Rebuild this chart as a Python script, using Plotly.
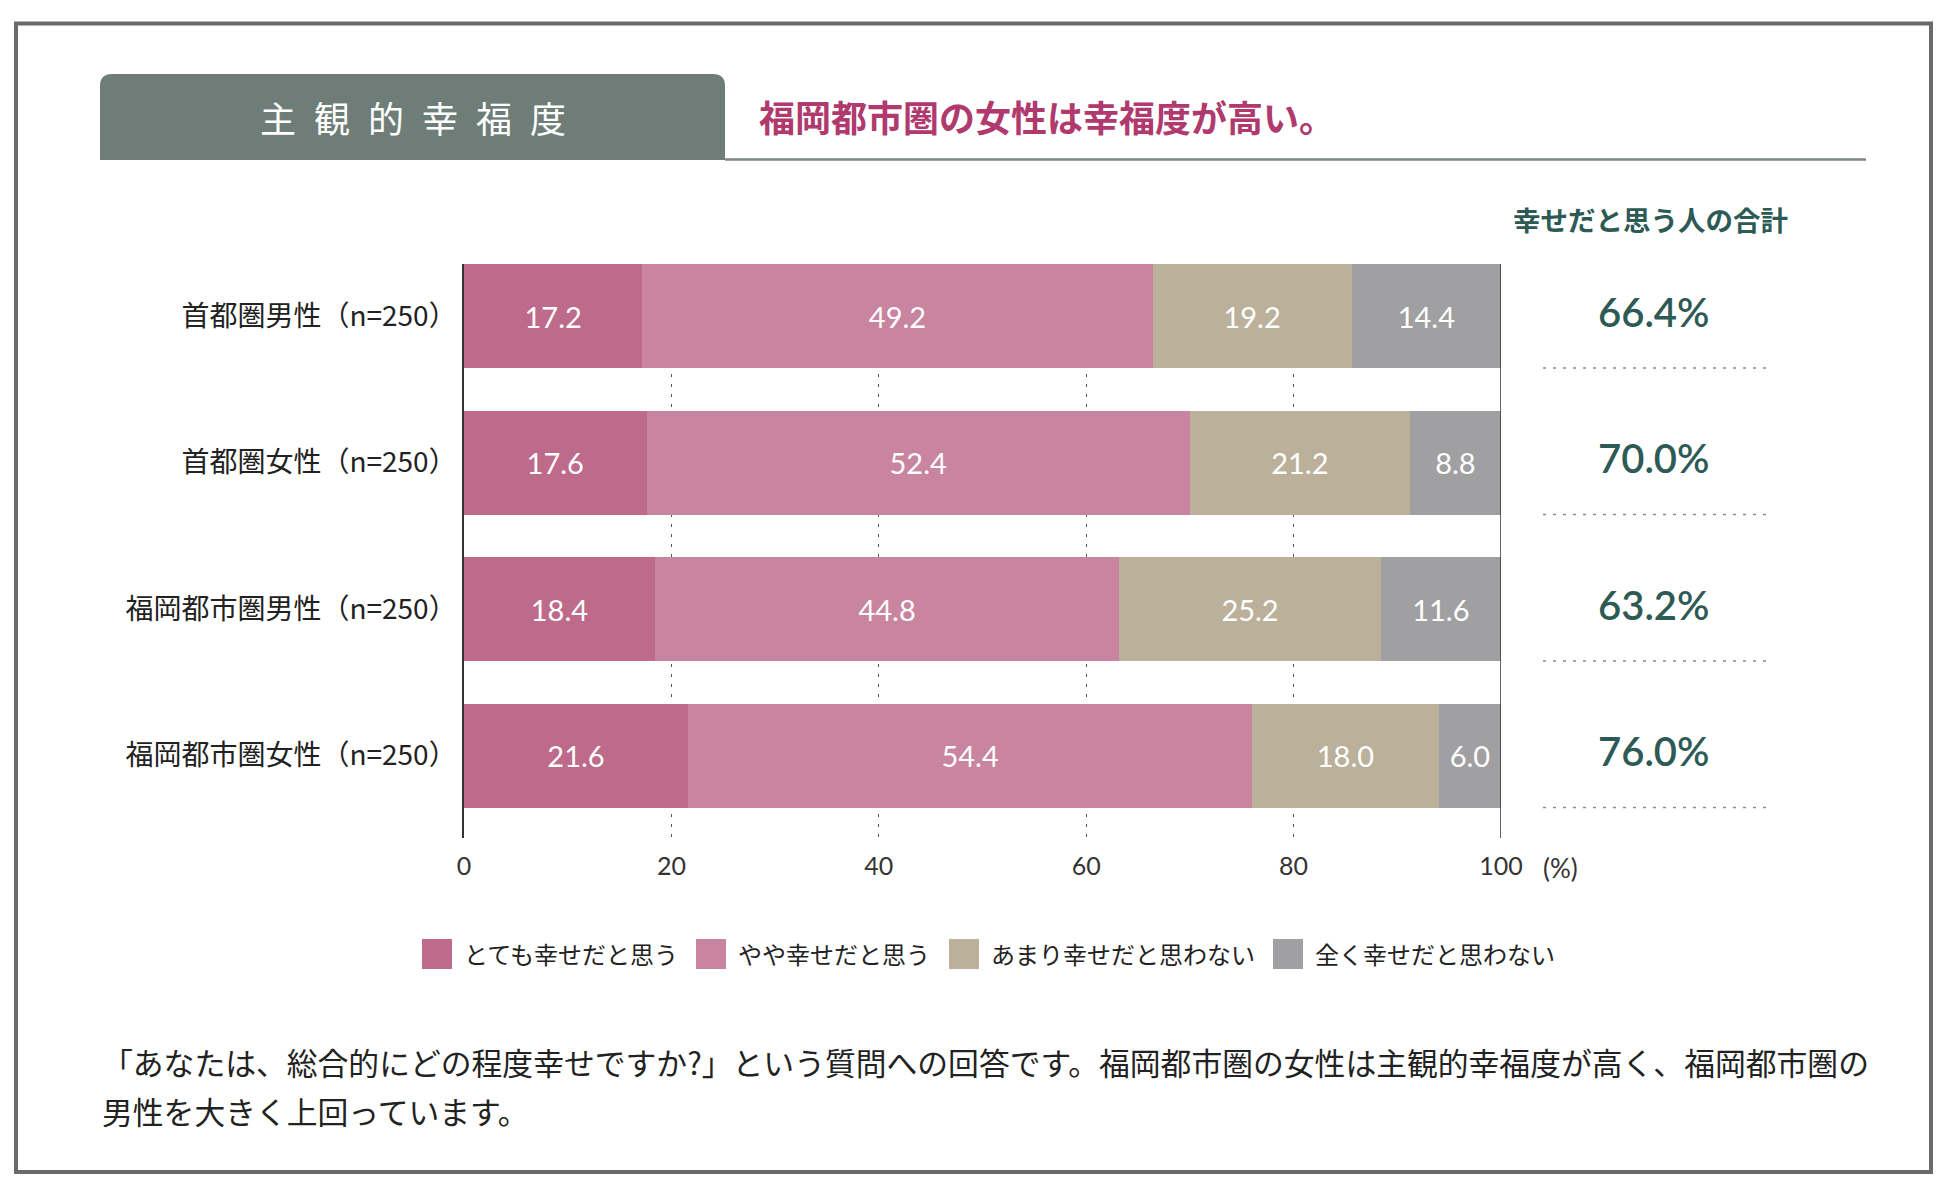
import plotly.graph_objects as go

# ---------------- data ----------------
categories = ["首都圏男性（n=250）", "首都圏女性（n=250）", "福岡都市圏男性（n=250）", "福岡都市圏女性（n=250）"]
series_names = ["とても幸せだと思う", "やや幸せだと思う", "あまり幸せだと思わない", "全く幸せだと思わない"]
very_happy = [17.2, 17.6, 18.4, 21.6]
somewhat_happy = [49.2, 52.4, 44.8, 54.4]
not_very_happy = [19.2, 21.2, 25.2, 18.0]
not_happy = [14.4, 8.8, 11.6, 6.0]
happy_total = [66.4, 70.0, 63.2, 76.0]
tick_vals = [0, 20, 40, 60, 80, 100]
tick_text = ["0", "20", "40", "60", "80", "100"]

title_text = "主\u2002観\u2002的\u2002幸\u2002福\u2002度"
subtitle_text = "福岡都市圏の女性は幸福度が高い。"
total_header = "幸せだと思う人の合計"
footer_lines = ["「あなたは、総合的にどの程度幸せですか?」という質問への回答です。福岡都市圏の女性は主観的幸福度が高く、福岡都市圏の",
                "男性を大きく上回っています。"]

colors = ["#be6a8a", "#c9849f", "#bbb19b", "#a0a0a2"]
series_values = [very_happy, somewhat_happy, not_very_happy, not_happy]

# ---------------- layout geometry (pixels) ----------------
W, H = 1950, 1191
PL, PR, PT, PB = 464, 1501, 264, 838
pw, ph = PR - PL, PB - PT


def px(x):
    return (x - PL) / pw


def py(y):
    return (PB - y) / ph


JP = "Noto Sans CJK JP"
NUM = "Lato"

fig = go.Figure()
for name, vals, col in zip(series_names, series_values, colors):
    fig.add_trace(go.Bar(
        y=categories, x=vals, name=name, orientation="h",
        marker=dict(color=col, line=dict(width=0)),
        text=[f"{v:.1f}" for v in vals], textposition="inside",
        insidetextanchor="middle", textangle=0,
        textfont=dict(color="white", size=29, family=NUM),
        showlegend=False, hoverinfo="skip",
    ))

shapes = []
annotations = []

# outer frame
shapes.append(dict(type="rect", xref="paper", yref="paper",
                   x0=px(16), x1=px(1931), y0=py(1172), y1=py(23.5),
                   line=dict(color="#6a6a6a", width=4), fillcolor="rgba(0,0,0,0)", layer="below"))
# header box (rounded top corners)
bx0, bx1, by0, by1, r = px(100), px(725), py(160), py(74), 12
rx, ry = r / pw, r / ph
path = (f"M{bx0},{by0} L{bx0},{by1 - ry} Q{bx0},{by1} {bx0 + rx},{by1} "
        f"L{bx1 - rx},{by1} Q{bx1},{by1} {bx1},{by1 - ry} L{bx1},{by0} Z")
shapes.append(dict(type="path", xref="paper", yref="paper", path=path,
                   fillcolor="#6e7d78", line=dict(width=0)))
shapes.append(dict(type="line", xref="paper", yref="paper",
                   x0=px(725), x1=px(1866), y0=py(159.5), y1=py(159.5),
                   line=dict(color="#7e8885", width=2.5)))

annotations.append(dict(text=title_text, xref="paper", yref="paper", x=px(413), y=py(117),
                        showarrow=False, xanchor="center", yanchor="middle",
                        font=dict(family=JP, size=36, color="white")))
annotations.append(dict(text=subtitle_text, xref="paper", yref="paper", x=px(757), y=py(116),
                        showarrow=False, xanchor="left", yanchor="middle",
                        font=dict(family=JP, size=36, color="#b03a6e", weight=700)))
annotations.append(dict(text=total_header, xref="paper", yref="paper", x=px(1650), y=py(219),
                        showarrow=False, xanchor="center", yanchor="middle",
                        font=dict(family=JP, size=27.5, color="#2d5a55", weight=700)))

# totals + dotted separators
for i, t in enumerate(happy_total):
    annotations.append(dict(text=f"{t:.1f}%", xref="paper", yref="y", x=px(1654), y=i - 0.03,
                            showarrow=False, xanchor="center", yanchor="middle",
                            font=dict(family=NUM, size=40, color="#2d5a55", weight=600)))
    shapes.append(dict(type="line", xref="paper", yref="y",
                       x0=px(1543), x1=px(1768), y0=i + 0.355, y1=i + 0.355,
                       line=dict(color="#8a8a8a", width=1.5, dash="3px,7px")))

# right frame line at 100
shapes.append(dict(type="line", xref="x", yref="paper", x0=100, x1=100, y0=0, y1=1,
                   line=dict(color="#333333", width=1.5), layer="above"))

# "(%)" unit
annotations.append(dict(text="(%)", xref="paper", yref="paper", x=px(1560), y=py(868),
                        showarrow=False, xanchor="center", yanchor="middle",
                        font=dict(family=NUM, size=26, color="#333333")))

# legend (manual, larger squares)
leg_sq = [422, 696, 949, 1273]
for name, col, x0 in zip(series_names, colors, leg_sq):
    shapes.append(dict(type="rect", xref="paper", yref="paper",
                       x0=px(x0), x1=px(x0 + 30), y0=py(969), y1=py(939),
                       fillcolor=col, line=dict(width=0)))
    annotations.append(dict(text=name, xref="paper", yref="paper", x=px(x0 + 40), y=py(953),
                            showarrow=False, xanchor="left", yanchor="middle",
                            font=dict(family=JP, size=24, color="#222222")))

# footer
for k, (line, yy) in enumerate(zip(footer_lines, [1061, 1110])):
    annotations.append(dict(text=line, xref="paper", yref="paper", x=px(100), y=py(yy),
                            showarrow=False, xanchor="left", yanchor="middle", align="left",
                            font=dict(family=JP, size=30.8, color="#222222")))

fig.update_layout(
    width=W, height=H,
    margin=dict(l=PL, r=W - PR, t=PT, b=H - PB, pad=0),
    paper_bgcolor="white", plot_bgcolor="white",
    barmode="stack", bargap=0.29,
    shapes=shapes, annotations=annotations,
    uniformtext=dict(minsize=29, mode="show"),
    xaxis=dict(range=[0, 100], tickvals=tick_vals, ticktext=tick_text,
               showgrid=True, gridcolor="#555555", gridwidth=1, griddash="3px,7px",
               zeroline=False, showline=False, ticks="",
               tickfont=dict(family=NUM, size=25, color="#333333"),
               ticklabelstandoff=11, fixedrange=True),
    yaxis=dict(range=[3.563, -0.355], showgrid=False, zeroline=False,
               showline=True, linecolor="#333333", linewidth=1.5, ticks="",
               tickfont=dict(family=JP, size=28, color="#222222"),
               ticklabelstandoff=0, fixedrange=True),
    font=dict(family=JP),
)

fig.write_html("out.html", config={"displayModeBar": False},
               post_script="document.body.style.margin='0';document.body.style.overflow='hidden';")
